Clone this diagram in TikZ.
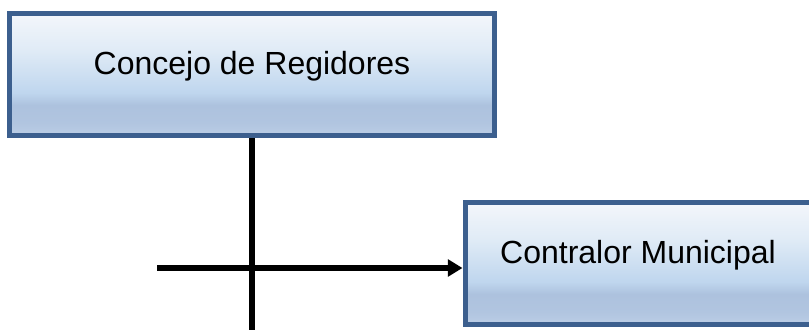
\documentclass[tikz,border=0pt]{standalone}
\usepackage{fontspec}
\setmainfont{Liberation Sans}
\usetikzlibrary{arrows.meta,calc,positioning}
\definecolor{OrgEdge}{HTML}{3C5F8E}
\definecolor{OrgInk}{HTML}{000000}
\definecolor{FadeTop}{HTML}{F3F6FB}
\definecolor{FadeA}{HTML}{E0EBF6}
\definecolor{FadeB}{HTML}{BFD6EE}
\definecolor{FadeC}{HTML}{ADC2DE}
\definecolor{FadeD}{HTML}{B1C5E0}
\definecolor{FadeE}{HTML}{BCCEE6}
\pgfdeclareverticalshading{orgfade}{100bp}{color(0bp)=(FadeE); color(25bp)=(FadeE);
  color(30bp)=(FadeD); color(37.5bp)=(FadeC); color(42.5bp)=(FadeB);
  color(60bp)=(FadeA); color(75bp)=(FadeTop); color(100bp)=(FadeTop)}
\tikzset{
  every node/.style={font=\fontsize{24}{28}\selectfont, text=OrgInk},
  orgbox/.style={draw=OrgEdge, line width=3.75pt, shading=orgfade,
    minimum height=91.5pt, text height=12pt, text depth=12pt, inner sep=0pt},
  link/.style={draw=OrgInk, line width=3.9pt},
  feed/.style={link, -{Triangle[length=11pt,width=12.5pt]}},
}
\begin{document}
\begin{tikzpicture}[x=0.75pt,y=0.75pt]
  % Page frame, the right box runs past it
  \useasboundingbox (0,0) rectangle (809,329);
  \clip (0,0) rectangle (809,329);
  % Boxes
  \node[orgbox, minimum width=363.75pt] (council) at (252,254.5) {Concejo de Regidores};
  \node[orgbox, minimum width=259.5pt] (comptroller) at (638,65.5) {Contralor Municipal};
  % Free ends of the connectors
  \coordinate (trunkEnd) at (252,-10);
  \coordinate (feedStart) at (157,61);
  % Connectors
  \draw[link] (council.south) -- (trunkEnd);
  \draw[feed] (feedStart) -- (feedStart -| comptroller.west);
\end{tikzpicture}
\end{document}
